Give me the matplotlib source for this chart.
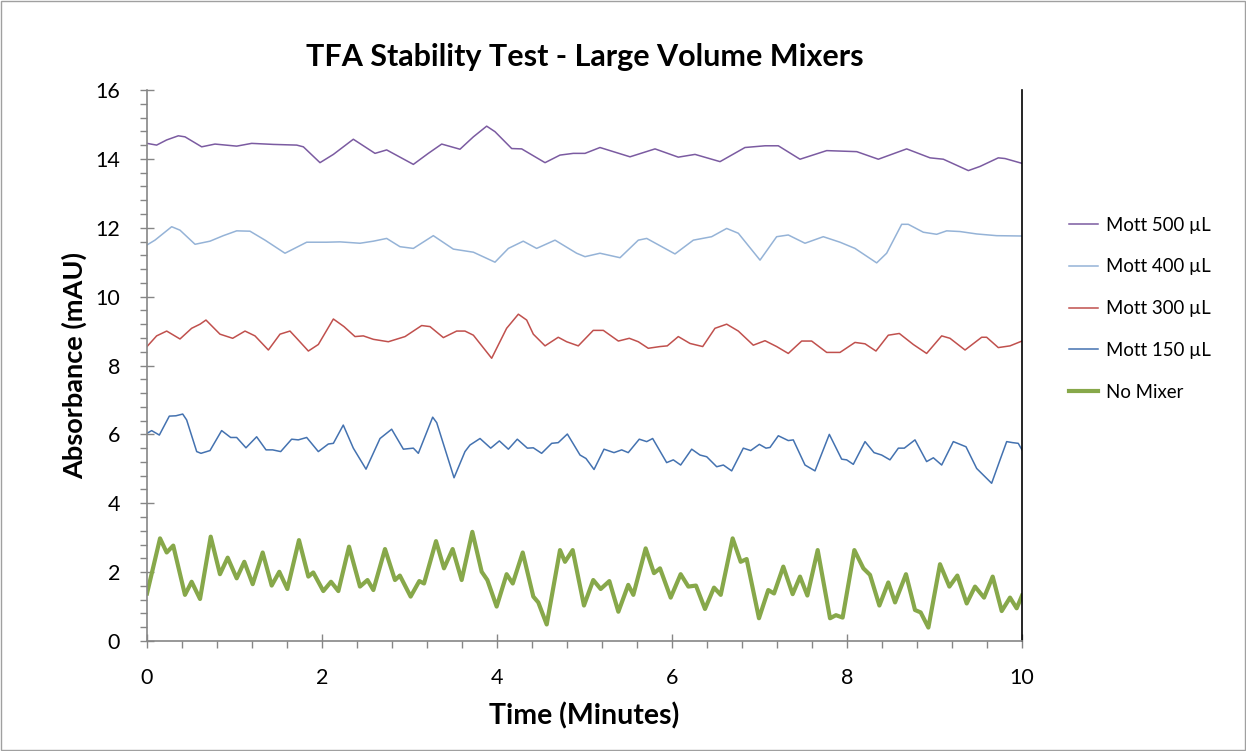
import matplotlib
matplotlib.use("Agg")
import matplotlib.pyplot as plt
from matplotlib.ticker import MultipleLocator
from matplotlib.patches import Rectangle

# ---------------- data ----------------
t_500 = [0, 0.11, 0.225, 0.358, 0.434, 0.625, 0.777, 1.025, 1.196, 1.444, 1.711, 1.787, 1.977, 2.13,
         2.358, 2.606, 2.739, 3.044, 3.215, 3.368, 3.577, 3.73, 3.882, 3.977, 4.168, 4.282, 4.549,
         4.72, 4.872, 5.006, 5.177, 5.52, 5.806, 6.072, 6.263, 6.549, 6.834, 7.063, 7.215, 7.463,
         7.768, 8.111, 8.358, 8.682, 8.949, 9.101, 9.387, 9.52, 9.729, 9.806, 10.0]
v_500 = [14.45, 14.40, 14.55, 14.67, 14.64, 14.35, 14.43, 14.37, 14.45, 14.42, 14.40, 14.35, 13.89, 14.13,
         14.57, 14.16, 14.26, 13.84, 14.16, 14.43, 14.28, 14.64, 14.95, 14.79, 14.30, 14.29, 13.89,
         14.11, 14.16, 14.16, 14.33, 14.06, 14.29, 14.05, 14.13, 13.92, 14.33, 14.38, 14.38, 13.99,
         14.24, 14.21, 13.99, 14.29, 14.03, 13.99, 13.66, 13.78, 14.03, 14.01, 13.87]

t_400 = [0, 0.091, 0.282, 0.377, 0.549, 0.72, 0.872, 1.025, 1.177, 1.349, 1.577, 1.825, 2.053, 2.206,
         2.434, 2.587, 2.739, 2.891, 3.044, 3.272, 3.501, 3.73, 3.977, 4.13, 4.30, 4.453, 4.663,
         4.91, 5.006, 5.177, 5.406, 5.615, 5.711, 6.034, 6.244, 6.453, 6.625, 6.758, 7.006, 7.196,
         7.329, 7.52, 7.729, 7.92, 8.091, 8.339, 8.453, 8.625, 8.70, 8.872, 9.025, 9.139, 9.291,
         9.482, 9.711, 10.0]
v_400 = [11.50, 11.64, 12.03, 11.93, 11.52, 11.61, 11.77, 11.91, 11.90, 11.64, 11.26, 11.58, 11.58, 11.59,
         11.55, 11.61, 11.69, 11.45, 11.40, 11.77, 11.38, 11.29, 11.00, 11.40, 11.61, 11.40, 11.64,
         11.26, 11.16, 11.26, 11.13, 11.64, 11.69, 11.24, 11.64, 11.74, 11.98, 11.84, 11.06, 11.74,
         11.79, 11.55, 11.74, 11.58, 11.40, 10.98, 11.26, 12.10, 12.10, 11.87, 11.81, 11.91, 11.89,
         11.82, 11.77, 11.76]

t_300 = [0, 0.11, 0.225, 0.377, 0.51, 0.606, 0.674, 0.834, 0.979, 1.12, 1.234, 1.387, 1.52, 1.634,
         1.711, 1.844, 1.958, 2.13, 2.251, 2.377, 2.472, 2.587, 2.758, 2.949, 3.139, 3.234, 3.387,
         3.539, 3.634, 3.73, 3.939, 4.11, 4.244, 4.339, 4.415, 4.549, 4.70, 4.796, 4.929, 5.10,
         5.215, 5.387, 5.512, 5.615, 5.729, 5.863, 5.946, 6.072, 6.206, 6.351, 6.491, 6.625, 6.758,
         6.929, 7.063, 7.196, 7.329, 7.482, 7.596, 7.768, 7.92, 8.091, 8.206, 8.331, 8.472, 8.598,
         8.758, 8.91, 9.082, 9.177, 9.349, 9.539, 9.596, 9.729, 9.863, 10.0]
v_300 = [8.55, 8.86, 9.00, 8.77, 9.08, 9.20, 9.32, 8.91, 8.79, 9.00, 8.86, 8.45, 8.91, 9.00,
         8.79, 8.42, 8.61, 9.35, 9.13, 8.84, 8.86, 8.76, 8.69, 8.84, 9.16, 9.13, 8.81,
         9.00, 9.00, 8.88, 8.21, 9.08, 9.49, 9.32, 8.91, 8.57, 8.82, 8.69, 8.57, 9.02,
         9.02, 8.71, 8.79, 8.69, 8.50, 8.55, 8.57, 8.84, 8.64, 8.55, 9.08, 9.20, 9.00,
         8.59, 8.72, 8.55, 8.35, 8.71, 8.71, 8.38, 8.38, 8.67, 8.63, 8.42, 8.88, 8.93,
         8.61, 8.35, 8.86, 8.79, 8.45, 8.82, 8.82, 8.52, 8.57, 8.71]

t_150 = [0, 0.053, 0.141, 0.255, 0.331, 0.408, 0.453, 0.568, 0.617, 0.72, 0.853, 0.956, 1.025, 1.131,
         1.253, 1.36, 1.436, 1.528, 1.653, 1.729, 1.825, 1.958, 2.072, 2.13, 2.243, 2.358, 2.503,
         2.663, 2.796, 2.93, 3.044, 3.101, 3.265, 3.311, 3.509, 3.634, 3.691, 3.806, 3.928, 4.027,
         4.13, 4.232, 4.347, 4.415, 4.51, 4.625, 4.70, 4.804, 4.949, 5.017, 5.109, 5.223, 5.337,
         5.425, 5.50, 5.626, 5.711, 5.779, 5.939, 6.015, 6.099, 6.225, 6.32, 6.397, 6.511, 6.587,
         6.682, 6.815, 6.899, 6.998, 7.074, 7.12, 7.215, 7.329, 7.386, 7.52, 7.634, 7.798, 7.939,
         7.996, 8.072, 8.206, 8.309, 8.396, 8.491, 8.587, 8.655, 8.777, 8.91, 8.987, 9.082, 9.215,
         9.36, 9.482, 9.653, 9.749, 9.825, 9.893, 9.957, 10.0]
v_150 = [6.03, 6.11, 5.98, 6.53, 6.54, 6.59, 6.42, 5.50, 5.45, 5.53, 6.11, 5.91, 5.91, 5.61,
         5.93, 5.55, 5.55, 5.50, 5.86, 5.84, 5.91, 5.50, 5.72, 5.74, 6.27, 5.60, 4.99,
         5.88, 6.15, 5.57, 5.60, 5.45, 6.50, 6.34, 4.74, 5.50, 5.69, 5.88, 5.60, 5.81,
         5.57, 5.86, 5.60, 5.61, 5.45, 5.74, 5.76, 6.01, 5.40, 5.30, 4.98, 5.57, 5.47,
         5.55, 5.47, 5.86, 5.79, 5.88, 5.18, 5.26, 5.11, 5.57, 5.40, 5.35, 5.06, 5.11,
         4.94, 5.60, 5.53, 5.71, 5.60, 5.62, 5.96, 5.82, 5.84, 5.11, 4.94, 6.00, 5.28,
         5.26, 5.13, 5.79, 5.47, 5.40, 5.26, 5.60, 5.60, 5.84, 5.21, 5.32, 5.11, 5.79,
         5.64, 5.01, 4.58, 5.26, 5.79, 5.76, 5.74, 5.55]

t_none = [0, 0.149, 0.225, 0.30, 0.434, 0.51, 0.606, 0.728, 0.834, 0.922, 1.025, 1.112, 1.208, 1.322,
          1.425, 1.512, 1.604, 1.737, 1.844, 1.90, 2.015, 2.103, 2.187, 2.309, 2.434, 2.52, 2.587,
          2.72, 2.834, 2.89, 3.013, 3.112, 3.166, 3.303, 3.394, 3.493, 3.596, 3.718, 3.825, 3.89,
          3.996, 4.11, 4.18, 4.294, 4.415, 4.472, 4.568, 4.72, 4.777, 4.865, 4.994, 5.10, 5.185,
          5.284, 5.387, 5.50, 5.558, 5.699, 5.794, 5.863, 5.985, 6.099, 6.187, 6.274, 6.377, 6.48,
          6.557, 6.693, 6.785, 6.853, 6.994, 7.10, 7.166, 7.272, 7.379, 7.463, 7.547, 7.665, 7.806,
          7.874, 7.95, 8.084, 8.187, 8.263, 8.37, 8.472, 8.549, 8.674, 8.777, 8.842, 8.93, 9.063,
          9.17, 9.261, 9.368, 9.463, 9.566, 9.665, 9.768, 9.863, 9.939, 10.0]
v_none = [1.38, 2.98, 2.57, 2.77, 1.34, 1.72, 1.22, 3.03, 1.94, 2.42, 1.82, 2.30, 1.65, 2.57,
          1.61, 2.01, 1.51, 2.93, 1.87, 1.99, 1.45, 1.72, 1.45, 2.74, 1.58, 1.77, 1.48,
          2.67, 1.77, 1.90, 1.29, 1.74, 1.67, 2.90, 2.11, 2.67, 1.77, 3.17, 2.01, 1.77,
          1.00, 1.94, 1.67, 2.57, 1.29, 1.12, 0.48, 2.64, 2.30, 2.64, 1.03, 1.77, 1.51,
          1.74, 0.85, 1.63, 1.34, 2.69, 1.97, 2.11, 1.26, 1.94, 1.58, 1.61, 0.93, 1.55,
          1.34, 2.98, 2.30, 2.38, 0.66, 1.48, 1.38, 2.16, 1.36, 1.87, 1.32, 2.64, 0.66,
          0.75, 0.68, 2.64, 2.11, 1.92, 1.03, 1.70, 1.12, 1.94, 0.90, 0.83, 0.39, 2.23,
          1.58, 1.90, 1.09, 1.58, 1.26, 1.87, 0.87, 1.26, 0.95, 1.32]

labels = ["Mott 500 \u00b5L", "Mott 400 \u00b5L", "Mott 300 \u00b5L", "Mott 150 \u00b5L", "No Mixer"]
colors = ["#7B5BA1", "#95B3D7", "#C0504D", "#4472B0", "#87A84A"]
title = "TFA Stability Test - Large Volume Mixers"
xlabel = "Time (Minutes)"
ylabel = "Absorbance (mAU)"

# ---------------- figure ----------------
plt.rcParams['font.family'] = ['Lato', 'DejaVu Sans']
fig = plt.figure(figsize=(12.46, 7.51), dpi=100)
ax = fig.add_axes([147/1246, 1-641/751, (1022-147)/1246, (641-90)/751])

series = [(t_500, v_500), (t_400, v_400), (t_300, v_300), (t_150, v_150), (t_none, v_none)]
widths = [1.1, 1.1, 1.1, 1.1, 3.0]
for (tt, vv), lab, col, lw in zip(series, labels, colors, widths):
    ax.plot(tt, vv, color=col, lw=lw, label=lab, solid_joinstyle='round')

ax.set_xlim(0, 10)
ax.set_ylim(0, 16)
ax.xaxis.set_major_locator(MultipleLocator(2))
ax.xaxis.set_minor_locator(MultipleLocator(0.4))
ax.yaxis.set_major_locator(MultipleLocator(2))
ax.yaxis.set_minor_locator(MultipleLocator(0.4))
ax.tick_params(which='major', direction='inout', length=10, width=1, color='#868686',
               labelsize=15.5)
ax.tick_params(which='minor', direction='out', length=5, width=1, color='#868686')
ax.tick_params(axis='x', which='major', pad=14.5)
ax.tick_params(axis='y', which='major', pad=14.5)
for s in ['left', 'bottom']:
    ax.spines[s].set_color('#868686')
    ax.spines[s].set_linewidth(1.2)
for s in ['top', 'right']:
    ax.spines[s].set_visible(False)
ax.plot([1, 1], [0, 1], transform=ax.transAxes, color='black', lw=1.2, clip_on=False)

ax.set_title(title, fontsize=22, fontweight='bold', pad=17)
ax.set_xlabel(xlabel, fontsize=20.5, fontweight='bold', labelpad=10)
ax.set_ylabel(ylabel, fontsize=19.5, fontweight='bold', labelpad=6)

ax.legend(loc='center left', bbox_to_anchor=(1.034, 0.603), frameon=False, fontsize=13.4,
          handlelength=1.6, labelspacing=1.33, handletextpad=0.43)

fig.patches.append(Rectangle((0.001, 0.001), 0.998, 0.998, transform=fig.transFigure,
                             fill=False, edgecolor='#A0A0A0', lw=1))
fig.savefig("out.png", dpi=100)
